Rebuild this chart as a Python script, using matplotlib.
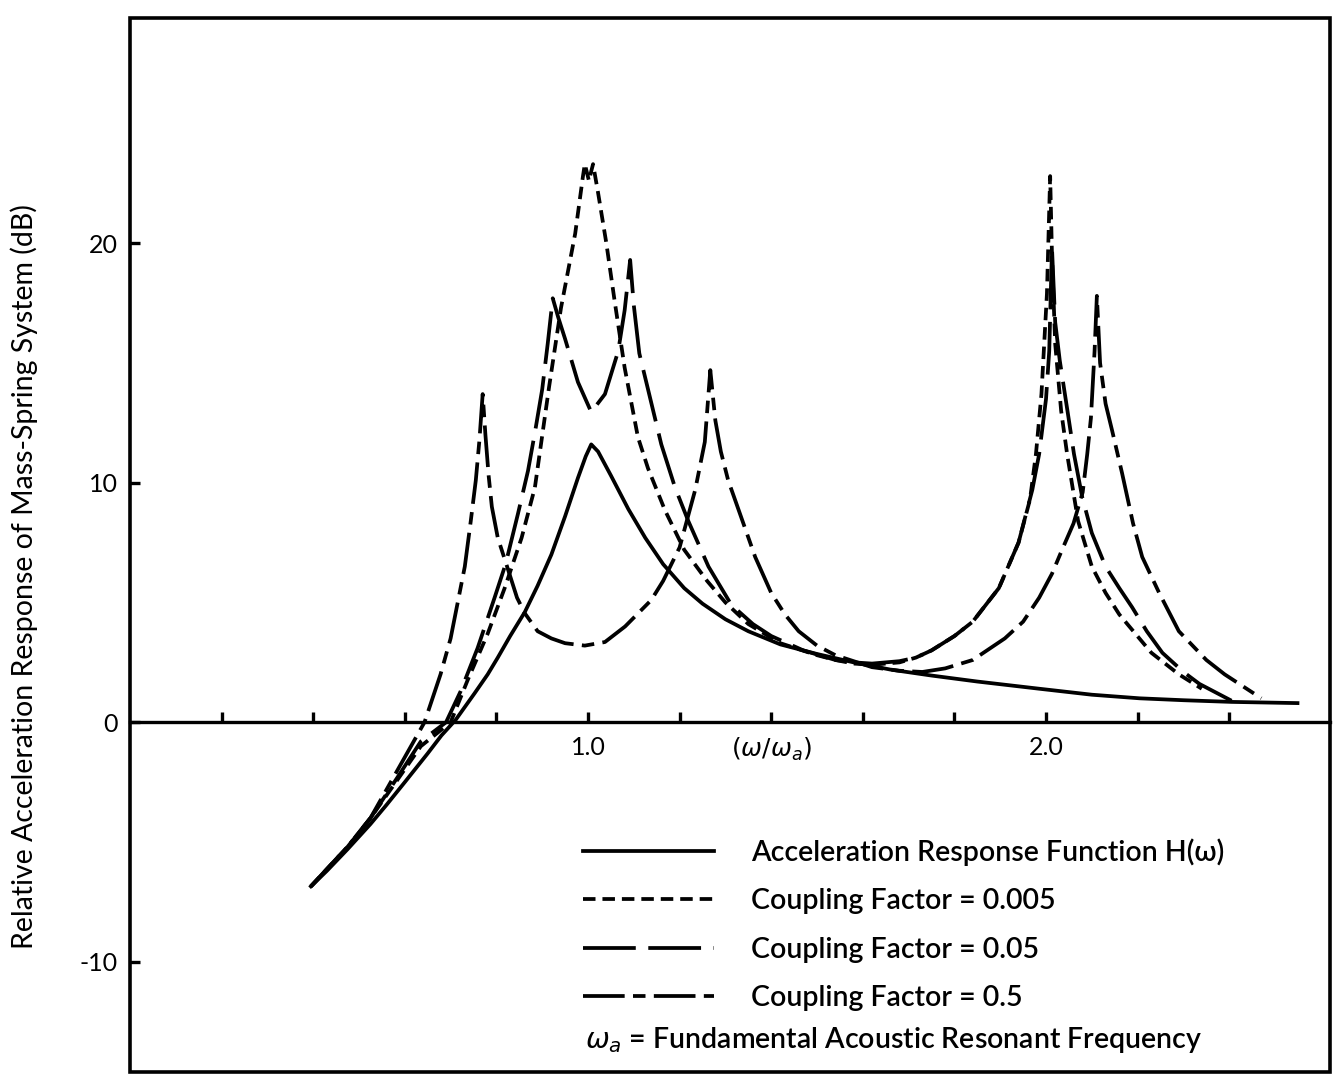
import matplotlib
matplotlib.use("Agg")
import matplotlib.pyplot as plt
from matplotlib.patches import Rectangle

plt.rcParams['font.family'] = ['Lato', 'DejaVu Sans']
plt.rcParams['lines.scale_dashes'] = False
plt.rcParams['axes.unicode_minus'] = False

# acceleration response function H(w), solid
h_x = [0.395, 0.43, 0.475, 0.525, 0.56, 0.60, 0.65, 0.68, 0.711, 0.752, 0.781, 0.803,
       0.83, 0.862, 0.89, 0.92, 0.95, 0.978, 0.995, 1.007, 1.022, 1.05, 1.088, 1.125,
       1.164, 1.21, 1.25, 1.30, 1.35, 1.42, 1.50, 1.58, 1.66, 1.75, 1.85, 1.985, 2.10,
       2.204, 2.30, 2.405, 2.549]
h_y = [-6.85, -6.2, -5.3, -4.25, -3.45, -2.5, -1.3, -0.55, 0.1, 1.2, 2.0, 2.7,
       3.6, 4.6, 5.7, 7.0, 8.6, 10.2, 11.1, 11.6, 11.3, 10.3, 8.9, 7.7,
       6.6, 5.6, 4.95, 4.3, 3.8, 3.25, 2.85, 2.5, 2.2, 1.95, 1.7, 1.4, 1.15,
       1.0, 0.92, 0.85, 0.8]

# coupling factor 0.005, short dashes
c1_x = [0.395, 0.475, 0.525, 0.584, 0.635, 0.70, 0.737, 0.781, 0.818, 0.855, 0.884,
        0.915, 0.941, 0.972, 0.989, 0.993, 0.997, 1.002, 1.007, 1.011, 1.022, 1.04,
        1.058, 1.08, 1.109, 1.131, 1.168, 1.21, 1.26, 1.30, 1.35, 1.42, 1.50, 1.54,
        1.58, 1.62, 1.68, 1.716, 1.75, 1.80, 1.84, 1.897, 1.94, 1.965, 1.978, 1.99,
        2.002, 2.009, 2.013, 2.02, 2.033, 2.046, 2.07, 2.10, 2.13, 2.16, 2.23, 2.29,
        2.34]
c1_y = [-6.85, -5.2, -4.0, -2.4, -1.0, 0.0, 1.75, 3.7, 5.6, 7.7, 9.8,
        14.0, 17.3, 20.4, 22.8, 23.3, 23.0, 22.6, 23.0, 23.3, 22.1, 20.0,
        17.6, 14.8, 11.9, 10.6, 8.85, 7.2, 5.9, 5.0, 4.1, 3.3, 2.8, 2.6,
        2.45, 2.4, 2.5, 2.7, 3.0, 3.6, 4.2, 5.6, 7.5, 9.3, 11.2, 13.7,
        17.9, 22.8, 19.5, 15.8, 13.0, 11.2, 8.4, 6.5, 5.4, 4.5, 2.9, 2.0,
        1.4]

# coupling factor 0.05, long dashes
c2_x = [0.395, 0.475, 0.525, 0.584, 0.635, 0.69, 0.722, 0.759, 0.796, 0.82, 0.847,
        0.869, 0.885, 0.90, 0.912, 0.923, 0.935, 0.95, 0.978, 1.007, 1.037, 1.066,
        1.08, 1.092, 1.10, 1.112, 1.131, 1.16, 1.19, 1.219, 1.263, 1.313, 1.36, 1.40,
        1.47, 1.54, 1.58, 1.62, 1.68, 1.716, 1.75, 1.80, 1.84, 1.897, 1.94, 1.97,
        1.985, 2.0, 2.007, 2.013, 2.02, 2.03, 2.05, 2.061, 2.079, 2.10, 2.13, 2.16,
        2.188, 2.22, 2.254, 2.30, 2.335, 2.405]
c2_y = [-6.85, -5.2, -4.0, -2.3, -0.8, 0.0, 1.3, 3.1, 5.2, 6.6, 8.7,
        10.5, 12.2, 13.9, 15.8, 17.7, 16.9, 16.0, 14.2, 12.95, 13.7, 15.5,
        17.2, 19.3, 17.4, 15.4, 13.9, 11.6, 9.8, 8.4, 6.5, 4.9, 4.1, 3.6,
        3.0, 2.6, 2.5, 2.45, 2.55, 2.7, 3.0, 3.6, 4.2, 5.6, 7.5, 9.7,
        11.2, 13.5, 15.5, 19.8, 16.7, 15.1, 12.6, 11.2, 9.4, 7.9, 6.5, 5.6,
        4.8, 3.8, 2.9, 2.1, 1.6, 0.9]

# coupling factor 0.5, dash-dot
c3_x = [0.395, 0.475, 0.525, 0.584, 0.643, 0.678, 0.70, 0.731, 0.744, 0.755, 0.763,
        0.770, 0.776, 0.783, 0.79, 0.803, 0.825, 0.845, 0.862, 0.89, 0.92, 0.95,
        0.993, 1.037, 1.081, 1.138, 1.164, 1.20, 1.234, 1.255, 1.267, 1.278, 1.29,
        1.306, 1.33, 1.365, 1.40, 1.43, 1.46, 1.50, 1.54, 1.62, 1.68, 1.73, 1.78,
        1.84, 1.91, 1.95, 1.985, 2.013, 2.035, 2.06, 2.08, 2.09, 2.098, 2.106, 2.111,
        2.118, 2.13, 2.144, 2.155, 2.166, 2.19, 2.21, 2.247, 2.29, 2.35, 2.39, 2.43,
        2.47]
c3_y = [-6.85, -5.2, -4.0, -2.0, 0.0, 2.0, 3.5, 6.5, 8.4, 10.1, 11.8,
        13.7, 12.0, 10.3, 9.0, 7.7, 6.4, 5.2, 4.55, 3.8, 3.5, 3.3,
        3.2, 3.35, 4.0, 5.1, 5.9, 7.3, 9.7, 11.7, 14.7, 12.6, 11.3,
        10.1, 8.8, 6.9, 5.4, 4.5, 3.8, 3.2, 2.8, 2.3, 2.15, 2.1, 2.25,
        2.6, 3.5, 4.2, 5.2, 6.2, 7.2, 8.3, 9.6, 11.2, 12.7, 15.5, 17.8,
        15.0, 13.3, 12.2, 11.3, 10.4, 8.3, 6.9, 5.4, 3.8, 2.6, 2.0, 1.5,
        1.0]

x_ticks = [0.2, 0.4, 0.6, 0.8, 1.0, 1.2, 1.4, 1.6, 1.8, 2.0, 2.2, 2.4]
x_tick_labels = ['', '', '', '', '1.0', '', r'$(\omega/\omega_a)$', '', '', '2.0', '', '']
y_ticks = [-10, 0, 10, 20]
y_tick_labels = ['-10', '0', '10', '20']

labels = ['Acceleration Response Function H(ω)',
          'Coupling Factor = 0.005',
          'Coupling Factor = 0.05',
          'Coupling Factor = 0.5']

lw = 2.7
fig = plt.figure(figsize=(13.4, 10.76), dpi=100)
ax = fig.add_axes([130 / 1340, 4 / 1076, 1200 / 1340, 1054 / 1076])

ax.plot(h_x, h_y, color='black', lw=lw, linestyle='-', label=labels[0])
ax.plot(c1_x, c1_y, color='black', lw=lw, linestyle=(0, (9, 5)), label=labels[1])
ax.plot(c2_x, c2_y, color='black', lw=lw, linestyle=(0, (38, 9)), label=labels[2])
ax.plot(c3_x, c3_y, color='black', lw=lw, linestyle=(0, (30, 6, 9, 6)), label=labels[3])

ax.set_xlim(0, 2.62)
ax.set_ylim(-14.6, 29.4)

# x axis drawn through zero, frame drawn as a box
for s in ['top', 'right', 'left']:
    ax.spines[s].set_visible(False)
ax.spines['bottom'].set_position(('data', 0))
ax.spines['bottom'].set_linewidth(2.4)
ax.add_patch(Rectangle((0, 0), 1, 1, transform=ax.transAxes, fill=False,
                       lw=2.6, edgecolor='black', clip_on=False))

ax.set_xticks(x_ticks)
ax.set_xticklabels(x_tick_labels)
ax.set_yticks(y_ticks)
ax.set_yticklabels(y_tick_labels)
ax.tick_params(axis='x', direction='in', length=7, width=2.4, pad=10, labelsize=18)
ax.tick_params(axis='y', direction='in', length=7, width=2.4, pad=9, labelsize=18)

ax.set_ylabel('Relative Acceleration Response of Mass-Spring System (dB)', fontsize=20.5)
ax.yaxis.set_label_coords(-0.077, 0.47)

ax.legend(loc='upper left', bbox_to_anchor=(0.3775, 0.222), frameon=False,
          prop={'size': 20.5, 'weight': 'semibold'}, handlelength=4.6,
          handletextpad=1.3, labelspacing=0.79, borderaxespad=0, borderpad=0)
ax.text(0.379, 0.03, r'$\omega_a$' + ' = Fundamental Acoustic Resonant Frequency',
        transform=ax.transAxes, fontsize=20.5, fontweight='semibold',
        va='center', ha='left')

plt.savefig('out.png', dpi=100)
